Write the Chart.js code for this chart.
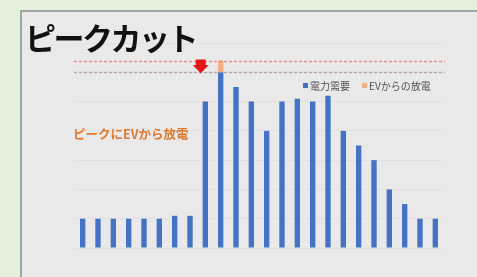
<!DOCTYPE html>
<html>
<head>
<meta charset="utf-8">
<script src="https://cdn.jsdelivr.net/npm/chart.js@4/dist/chart.umd.min.js"></script>
<style>
  html, body { margin: 0; padding: 0; width: 477px; height: 277px; overflow: hidden; background: #e2efda; }
  #panel { position: absolute; left: 20px; top: 10px; right: 0; bottom: 0; background: #e9e9e9; border-left: 2px solid #a3a3a3; border-top: 2px solid #a3a3a3; }
  #chart { position: absolute; left: 0; top: 0; }
  #title { position: absolute; left: 25px; top: 21px; font: 700 31px "Noto Sans CJK JP", sans-serif; line-height: 1; color: #111; letter-spacing: -2.5px; }
  #note { position: absolute; left: 73px; top: 128px; font: 700 12.5px "Noto Sans CJK JP", sans-serif; line-height: 1; color: #de7a30; }
  #legend { position: absolute; left: 303px; top: 80px; font: 10px "Noto Sans CJK JP", sans-serif; line-height: 12px; color: #505050; white-space: nowrap; }
  #legend span.sw { display: inline-block; width: 5px; height: 5px; margin-right: 2px; vertical-align: 2px; }
  #legend span.item { margin-right: 12px; }
</style>
</head>
<body>
<div id="panel"></div>
<canvas id="chart" width="477" height="277"></canvas>
<div id="title">ピークカット</div>
<div id="note">ピークにEVから放電</div>
<div id="legend"></div>
<script>
// 時間帯(24本)
var hours = ['0','1','2','3','4','5','6','7','8','9','10','11','12','13','14','15','16','17','18','19','20','21','22','23'];
// 電力需要
var demand = [10, 10, 10, 10, 10, 10, 11, 11, 50, 60, 55, 50, 40, 50, 51, 50, 52, 40, 35, 30, 20, 15, 10, 10];
// EVからの放電 (ピーク時のみ)
var evDischarge = [0, 0, 0, 0, 0, 0, 0, 0, 0, 4, 0, 0, 0, 0, 0, 0, 0, 0, 0, 0, 0, 0, 0, 0];
var seriesNames = ['電力需要', 'EVからの放電'];
var seriesColors = ['#4472c4', '#f4b183'];
var yTicks = [0, 10, 20, 30, 40, 50, 60, 70];
var peakLine = 64;   // 元のピーク
var cutLine = 60;    // カット後
var arrowPos = 7.7;  // 矢印の位置(カテゴリ)

var guidePlugin = {
    id: 'guides',
    afterDatasetsDraw: function(chart) {
        var ctx = chart.ctx, area = chart.chartArea;
        var x = chart.scales.x, y = chart.scales.y;
        ctx.save();
        ctx.lineWidth = 1.5;
        ctx.setLineDash([3, 2]);
        [[peakLine, 'rgba(222,110,110,0.7)'], [cutLine, 'rgba(170,140,140,0.7)']].forEach(function(l) {
            var py = Math.round(y.getPixelForValue(l[0])) + 0.5;
            ctx.strokeStyle = l[1];
            ctx.beginPath();
            ctx.moveTo(area.left - 1, py);
            ctx.lineTo(area.right + 2, py);
            ctx.stroke();
        });
        ctx.setLineDash([]);
        // 赤い下向き矢印
        var ax = x.getPixelForValue(arrowPos);
        var top = y.getPixelForValue(peakLine) - 1;
        var bottom = y.getPixelForValue(cutLine - 0.3);
        var mid = top + (bottom - top) * 0.4;
        ctx.fillStyle = '#e5141b';
        ctx.beginPath();
        ctx.moveTo(ax - 5, top);
        ctx.lineTo(ax + 5, top);
        ctx.lineTo(ax + 5, mid);
        ctx.lineTo(ax + 8, mid);
        ctx.lineTo(ax, bottom);
        ctx.lineTo(ax - 8, mid);
        ctx.lineTo(ax - 5, mid);
        ctx.closePath();
        ctx.fill();
        ctx.restore();
    }
};

new Chart(document.getElementById('chart'), {
    type: 'bar',
    data: {
        labels: hours,
        datasets: [
            { label: seriesNames[0], data: demand, backgroundColor: seriesColors[0] },
            { label: seriesNames[1], data: evDischarge, backgroundColor: seriesColors[1] }
        ]
    },
    options: {
        responsive: false,
        animation: false,
        events: [],
        layout: { padding: { left: 75, right: 34, top: 43, bottom: 29 } },
        datasets: { bar: { barPercentage: 0.35, categoryPercentage: 1 } },
        plugins: { legend: { display: false }, tooltip: { enabled: false } },
        scales: {
            x: { stacked: true, display: false },
            y: {
                stacked: true,
                min: yTicks[0],
                max: yTicks[yTicks.length - 1],
                afterBuildTicks: function(axis) {
                    axis.ticks = yTicks.map(function(v) { return { value: v }; });
                },
                ticks: { display: false },
                border: { display: false },
                grid: { drawTicks: false, color: 'rgba(0,0,0,0.035)', lineWidth: 1 }
            }
        }
    },
    plugins: [guidePlugin]
});

var legend = document.getElementById('legend');
seriesNames.forEach(function(name, i) {
    legend.innerHTML += '<span class="item"><span class="sw" style="background:' + seriesColors[i] + '"></span>' + name + '</span>';
});
</script>
</body>
</html>
